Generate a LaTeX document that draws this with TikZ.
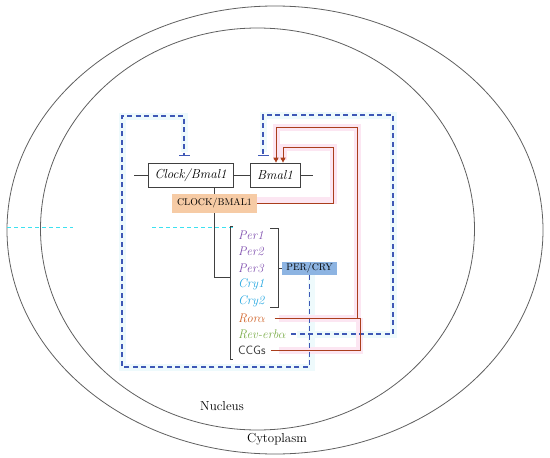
\documentclass[tikz,border=0pt]{standalone}
\usepackage{fontspec}
\usetikzlibrary{arrows.meta}
\definecolor{cellgray}{RGB}{95,95,95}
\definecolor{dblue}{RGB}{62,88,182}
\definecolor{dred}{RGB}{170,62,28}
\definecolor{pinkglow}{RGB}{252,230,242}
\definecolor{cyanglow}{RGB}{238,250,252}
\definecolor{peach}{RGB}{246,203,165}
\definecolor{percol}{RGB}{141,180,226}
\definecolor{percolor}{RGB}{128,80,175}
\definecolor{crycolor}{RGB}{36,166,224}
\definecolor{rorcolor}{RGB}{208,100,42}
\definecolor{revcolor}{RGB}{122,172,72}
\definecolor{lcyan}{RGB}{60,225,240}
\begin{document}
\begin{tikzpicture}[x=1pt,y=-1pt,
  cellline/.style={draw=cellgray,line width=0.8pt},
  genebox/.style={draw=black!75,line width=0.7pt,fill=white,inner sep=0pt,font=\fontsize{13}{15}\selectfont\itshape},
  protbox/.style={inner sep=0pt,font=\fontsize{9.8}{11}\selectfont},
  gene/.style={anchor=west,inner sep=0pt,font=\fontsize{12.5}{14}\selectfont\itshape},
  thin/.style={draw=black!75,line width=0.7pt},
  inhib/.style={draw=dblue,line width=1.3pt,dash pattern=on 5pt off 3.5pt,-{Bar[width=11pt,line width=1pt]}},
  act/.style={draw=dred,line width=0.9pt,-{Triangle[length=5pt,width=5pt]}},
  actline/.style={draw=dred,line width=0.9pt},
  pglow/.style={draw=pinkglow,line width=7pt},
  cglow/.style={draw=cyanglow,line width=7pt},
  label/.style={inner sep=0pt,font=\fontsize{13}{15}\selectfont}]
\useasboundingbox (0,0) rectangle (550,458);
% cell
\draw[cellline] (275,230) ellipse [x radius=268, y radius=224];
\draw[cellline] (257.5,229) ellipse [x radius=217, y radius=201];
\node[label] (nuc) at (222,406) {Nucleus};
\node[label] (cyt) at (277,439) {Cytoplasm};
% faint cyan dashes
\draw[lcyan,line width=1pt,dash pattern=on 4pt off 3pt] (7,227) -- (73,227);
\draw[lcyan,line width=1pt,dash pattern=on 4pt off 3pt] (152,227) -- (233,227);
% coordinates
\coordinate (t1) at (184,156);
\coordinate (t2) at (263,156);
% glows
\draw[cglow] (311,275) -- (311,367) -- (122,367) -- (122,116) -- (184,116) -- (184,152);
\draw[cglow] (297,334) -- (393,334) -- (393,115) -- (263,115) -- (263,152);
\draw[pglow] (257,200) -- (333,200) -- (333,147) -- (283,147) -- (283,160);
\draw[pglow] (279,318) -- (357,318) -- (357,127) -- (276,127) -- (276,160);
\draw[pglow] (279,350) -- (359,350) -- (359,318);
% boxes
\node[genebox,minimum width=85pt,minimum height=24pt] (cb) at (190.5,175) {Clock/Bmal1};
\node[genebox,minimum width=50pt,minimum height=24pt] (bm) at (275,175) {Bmal1};
\node[protbox,fill=peach,minimum width=85pt,minimum height=19pt] (CB) at (214.5,203.5) {CLOCK/BMAL1};
\node[protbox,fill=percol,minimum width=55pt,minimum height=13pt] (PC) at (309.5,268.5) {PER/CRY};
% genes
\node[gene,text=percolor] (per1) at (238,235) {Per1};
\node[gene,text=percolor] (per2) at (238,251.5) {Per2};
\node[gene,text=percolor] (per3) at (238,268) {Per3};
\node[gene,text=crycolor] (cry1) at (238,284.5) {Cry1};
\node[gene,text=crycolor] (cry2) at (238,301) {Cry2};
\node[gene,text=rorcolor] (ror) at (238,318) {Ror$\alpha$};
\node[gene,text=revcolor] (rev) at (238,334) {Rev-erb$\alpha$};
\node[gene,font=\fontsize{12}{14}\selectfont\sffamily,text=black!80] (ccg) at (238,350) {CCGs};
% gene lines
\draw[thin] (134,175) -- (cb.west);
\draw[thin] (cb.east) -- (bm.west);
\draw[thin] (bm.east) -- (313,175);
\draw[thin] (cb.south -| CB.north) -- (CB.north);
\draw[thin] (CB.south) -- (CB.south |- 0,277) -- (230,277);
\draw[thin] (233,226) -- (230,226) -- (230,359) -- (233,359);
\draw[thin] (270,228) -- (278,228) -- (278,307) -- (270,307);
\draw[thin] (278,268.5) -- (PC.west);
% inhibition loops
\draw[inhib] (PC.south) -- (PC.south |- 0,367) -- (122,367) -- (122,116) -- (184,116) -- (t1);
\draw[inhib] (rev.east) ++(5,0) -- (393,334) -- (393,115) -- (263,115) -- (t2);
% activation
\draw[act] (CB.east) -- (333,203.5) -- (333,147) -- (283,147) -- (bm.north -| 283,0);
\draw[act] (ror.east) ++(9,0) -- (357,318) -- (357,127) -- (276,127) -- (bm.north -| 276,0);
\draw[actline] (ccg.east) ++(5,0) -- (360,350) -- (360,318) -- (357,318);
\end{tikzpicture}
\end{document}
